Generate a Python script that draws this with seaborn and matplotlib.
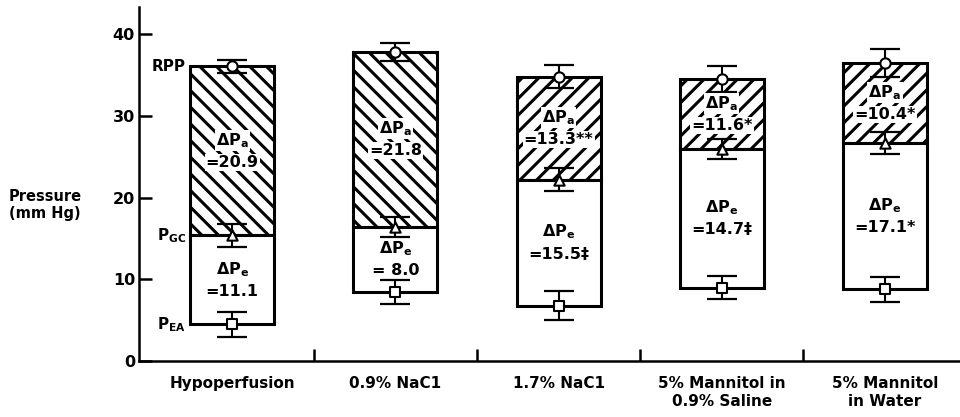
import numpy as np
import matplotlib
matplotlib.use('Agg')
import matplotlib.pyplot as plt
import seaborn as sns

# glomerular pressure profile per infusion group (mm Hg)
groups = ['Hypoperfusion', '0.9% NaC1', '1.7% NaC1',
          '5% Mannitol in\n0.9% Saline', '5% Mannitol\nin Water']
rpp = [36.1, 37.9, 34.8, 34.5, 36.5]
rpp_se = [0.8, 1.1, 1.4, 1.6, 1.7]
pgc = [15.4, 16.4, 22.2, 26.0, 26.7]
pgc_se = [1.4, 1.25, 1.4, 1.2, 1.35]
pea = [4.5, 8.5, 6.8, 9.0, 8.8]
pea_se = [1.5, 1.45, 1.75, 1.4, 1.5]
dpa_text = ['=20.9', '=21.8', '=13.3**', '=11.6*', '=10.4*']
dpe_text = ['=11.1', '= 8.0', '=15.5‡', '=14.7‡', '=17.1*']

hatches = ['\\\\', '\\\\', '//', '//', '//']

sns.set_style('ticks')
plt.rcParams['font.family'] = ['DejaVu Sans']
plt.rcParams['font.weight'] = 'bold'
plt.rcParams['mathtext.fontset'] = 'custom'
plt.rcParams['mathtext.rm'] = 'DejaVu Sans:bold'
plt.rcParams['mathtext.it'] = 'DejaVu Sans:bold'
plt.rcParams['mathtext.bf'] = 'DejaVu Sans:bold'
plt.rcParams['hatch.linewidth'] = 2.2
plt.rcParams['hatch.color'] = 'black'
for key in ['text.color', 'axes.labelcolor', 'xtick.color', 'ytick.color', 'axes.edgecolor']:
    plt.rcParams[key] = 'black'

fig = plt.figure(figsize=(9.6, 4.17), dpi=100)
ax = fig.add_axes([0.145, 0.134, 0.855, 0.85])

xs = np.arange(len(groups))
upper = np.array(rpp) - np.array(pgc)
lower = np.array(pgc) - np.array(pea)

# hatched part (PGC -> RPP)
sns.barplot(x=groups, y=upper, bottom=pgc, color='white', saturation=1,
            edgecolor='black', linewidth=2.2, width=0.515, errorbar=None, ax=ax)
for patch, h in zip(ax.containers[-1], hatches):
    patch.set_hatch(h)
# open part (PEA -> PGC)
sns.barplot(x=groups, y=lower, bottom=pea, color='white', saturation=1,
            edgecolor='black', linewidth=2.2, width=0.515, errorbar=None, ax=ax)

# means +- SE
for vals, se, m in [(rpp, rpp_se, 'o'), (pgc, pgc_se, '^'), (pea, pea_se, 's')]:
    ax.errorbar(xs, vals, yerr=se, fmt='none', ecolor='black', elinewidth=1.5,
                capsize=10.5, capthick=1.6, zorder=3)
    sns.scatterplot(x=xs, y=vals, marker=m, s=55, color='white', edgecolor='black',
                    linewidth=1.5, zorder=4, legend=False, ax=ax)

box = dict(facecolor='white', edgecolor='none', pad=0.8)
for i in xs:
    mid_a = (rpp[i] + pgc[i]) / 2
    mid_e = (pgc[i] + pea[i]) / 2
    ax.text(i, mid_a + 1.3, r'ΔP$_\mathrm{a}$', ha='center', va='center', fontsize=11.5, bbox=box, zorder=5)
    ax.text(i, mid_a - 1.4, dpa_text[i], ha='center', va='center', fontsize=11.5, bbox=box, zorder=5)
    ax.text(i, mid_e + 1.3, r'ΔP$_\mathrm{e}$', ha='center', va='center', fontsize=11.5, zorder=5)
    ax.text(i, mid_e - 1.4, dpe_text[i], ha='center', va='center', fontsize=11.5, zorder=5)

# names of the pressures, beside the first bar
ax.text(-0.285, rpp[0], 'RPP', ha='right', va='center', fontsize=11)
ax.text(-0.285, pgc[0], r'P$_\mathrm{GC}$', ha='right', va='center', fontsize=11)
ax.text(-0.285, pea[0], r'P$_\mathrm{EA}$', ha='right', va='center', fontsize=11)

ax.set_xlim(-0.57, 4.46)
ax.set_ylim(0, 43.4)
ax.set_yticks([0, 10, 20, 30, 40])
ax.set_xticks(xs)
ax.set_xticklabels(groups, fontsize=11, fontweight='bold')
ax.set_xticks(xs[:-1] + 0.5, minor=True)
ax.tick_params(axis='x', which='major', length=0, pad=11)
ax.tick_params(axis='x', which='minor', direction='in', length=9, width=1.8)
ax.tick_params(axis='y', direction='in', length=9, width=1.8, pad=3, labelsize=11.5)
for lab in ax.get_yticklabels():
    lab.set_fontweight('bold')

ax.set_xlabel('')
ax.set_ylabel('Pressure\n(mm Hg)', rotation=0, fontsize=10.5, fontweight='bold',
              ha='center', va='center')
ax.yaxis.set_label_coords(-0.115, 0.44)

sns.despine(ax=ax)
ax.spines['left'].set_linewidth(1.8)
ax.spines['bottom'].set_linewidth(1.8)

fig.savefig('out.png', dpi=100)
